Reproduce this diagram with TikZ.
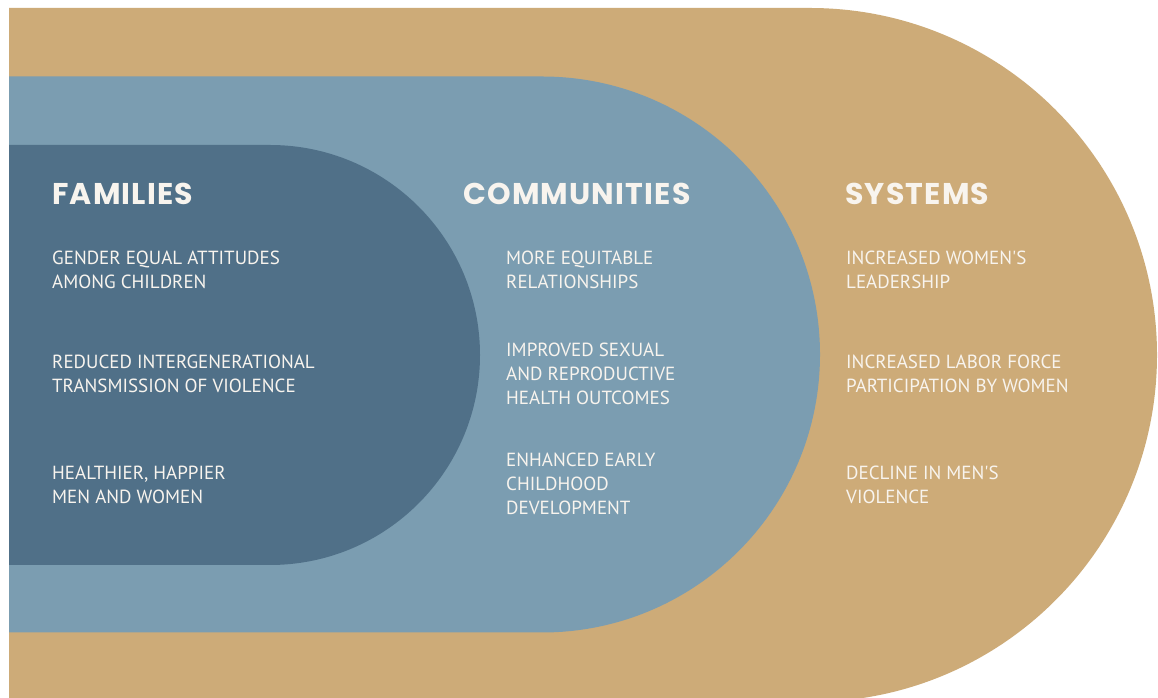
\documentclass[tikz,border=0pt]{standalone}
\usepackage{fontspec}
\setmainfont{PT Sans}
\newfontfamily\headfont[LetterSpace=4]{Poppins}
\newfontfamily\itemfont{PT Sans}
\definecolor{tanband}{HTML}{CDAB78}
\definecolor{midband}{HTML}{7B9DB1}
\definecolor{darkband}{HTML}{507088}
\definecolor{txt}{HTML}{F8F4EE}
\begin{document}
\begin{tikzpicture}[x=1pt,y=1pt,
  head/.style={anchor=base west,inner sep=0pt,text=txt,font=\headfont\bfseries\fontsize{30}{30}\selectfont},
  % multi-line items are placed by the baseline of their last line
  item/.style={anchor=base west,inner sep=0pt,text=txt,align=left,
    font=\itemfont\fontsize{19}{24}\selectfont}]
\useasboundingbox (0,0) rectangle (1158,698);
\fill[white] (0,0) rectangle (1158,698);
\clip (0,0) rectangle (1158,698);
% three nested half-stadium bands
\fill[tanband] (9,690) -- (810,690) arc[start angle=90,end angle=-90,radius=347] -- (9,-4) -- cycle;
\fill[midband] (9,621.5) -- (542,621.5) arc[start angle=90,end angle=-90,radius=278] -- (9,65.5) -- cycle;
\fill[darkband] (9,553) -- (270,553) arc[start angle=90,end angle=-90,radius=210] -- (9,133) -- cycle;
% column headings
\node[head] (fam) at (52,493) {FAMILIES};
\node[head] (com) at (463,493) {COMMUNITIES};
\node[head] (sys) at (845,493) {SYSTEMS};
% families
\node[item] (f1) at (52,409) {GENDER EQUAL ATTITUDES\\AMONG CHILDREN};
\node[item] (f2) at (52,305) {REDUCED INTERGENERATIONAL\\TRANSMISSION OF VIOLENCE};
\node[item] (f3) at (52,194) {HEALTHIER, HAPPIER\\MEN AND WOMEN};
% communities
\node[item] (c1) at (506,409) {MORE EQUITABLE\\RELATIONSHIPS};
\node[item] (c2) at (506,293) {IMPROVED SEXUAL\\AND REPRODUCTIVE\\HEALTH OUTCOMES};
\node[item] (c3) at (506,183) {ENHANCED EARLY\\CHILDHOOD\\DEVELOPMENT};
% systems
\node[item] (s1) at (846,409) {INCREASED WOMEN'S\\LEADERSHIP};
\node[item] (s2) at (846,305) {INCREASED LABOR FORCE\\PARTICIPATION BY WOMEN};
\node[item] (s3) at (846,194) {DECLINE IN MEN'S\\VIOLENCE};
\end{tikzpicture}
\end{document}
